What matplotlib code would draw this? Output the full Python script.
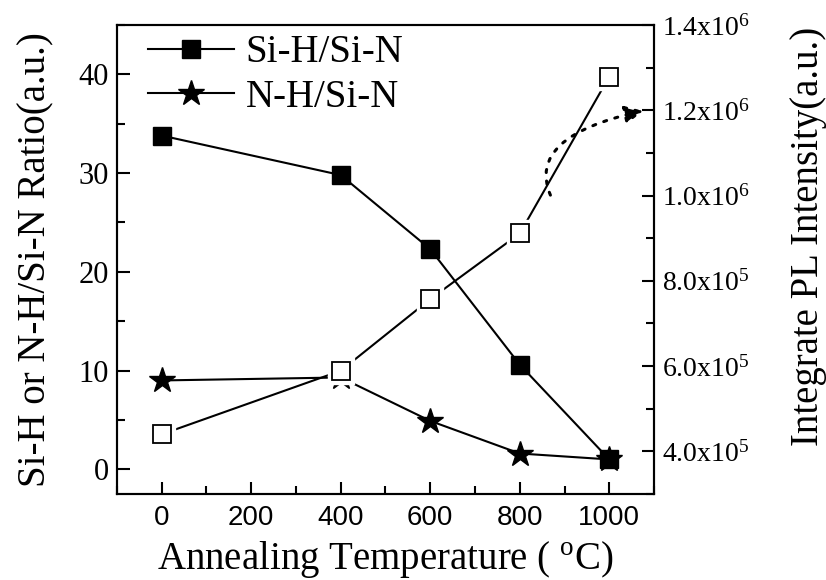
import matplotlib
matplotlib.use("Agg")
import matplotlib.pyplot as plt
from matplotlib.ticker import MultipleLocator, FixedLocator

plt.rcParams['font.family'] = ['Liberation Serif', 'DejaVu Serif']
plt.rcParams['mathtext.fontset'] = 'custom'
plt.rcParams['mathtext.rm'] = 'Liberation Serif'
plt.rcParams['mathtext.it'] = 'Liberation Serif:italic'

temps = [0, 400, 600, 800, 1000]
sih_sin = [33.8, 29.8, 22.3, 10.6, 1.0]
nh_sin = [9.0, 9.3, 4.9, 1.6, 1.0]
pl_intensity = [4.4e5, 5.89e5, 7.57e5, 9.11e5, 1.279e6]

left_ticks = [0, 10, 20, 30, 40]
x_ticks = [0, 200, 400, 600, 800, 1000]
right_ticks = [4e5, 6e5, 8e5, 1.0e6, 1.2e6, 1.4e6]
right_tick_labels = [r'4.0x10$^5$', r'6.0x10$^5$', r'8.0x10$^5$',
                     r'1.0x10$^6$', r'1.2x10$^6$', r'1.4x10$^6$']

fig = plt.figure(figsize=(8.26, 5.8), dpi=100)
ax = fig.add_axes([0.1416, 0.1483, 0.6502, 0.8086])
ax2 = ax.twinx()

lw = 1.5
ax.plot(temps, sih_sin, '-', color='black', lw=lw, marker='s', ms=13.5,
        mfc='black', mec='black', label='Si-H/Si-N', zorder=3)
ax.plot(temps, nh_sin, '-', color='black', lw=lw, marker='*', ms=19,
        mfc='black', mec='black', label='N-H/Si-N', zorder=3)

ax2.plot(temps, pl_intensity, '-', color='black', lw=lw, zorder=2)
ax2.plot(temps, pl_intensity, linestyle='none', marker='s', ms=19,
         mfc='white', mec='white', zorder=3)
ax2.plot(temps, pl_intensity, linestyle='none', marker='s', ms=13,
         mfc='white', mec='black', mew=1.3, zorder=4)

ax2.annotate('', xy=(1082, 1.2e6), xytext=(871, 0.995e6),
             arrowprops=dict(arrowstyle='-|>,head_length=0.6,head_width=0.3',
                             linestyle=(0, (1.0, 2.8)),
                             lw=2.2, color='black', mutation_scale=18,
                             connectionstyle='angle3,angleA=115,angleB=12'),
             zorder=5)

ax.set_xlim(-100, 1100)
ax.set_ylim(-2.5, 45)
ax2.set_ylim(3e5, 1.4e6)

ax.xaxis.set_major_locator(FixedLocator(x_ticks))
ax.xaxis.set_minor_locator(MultipleLocator(100))
ax.yaxis.set_major_locator(FixedLocator(left_ticks))
ax.yaxis.set_minor_locator(MultipleLocator(5))
ax2.yaxis.set_major_locator(FixedLocator(right_ticks))
ax2.set_yticklabels(right_tick_labels)
ax2.yaxis.set_minor_locator(MultipleLocator(1e5))

for a in (ax, ax2):
    for s in a.spines.values():
        s.set_linewidth(1.5)

ax.tick_params(axis='both', which='both', direction='in', width=1.5,
               top=False, right=False)
ax.tick_params(axis='both', which='major', length=9)
ax.tick_params(axis='both', which='minor', length=6)
ax.tick_params(axis='y', labelsize=22, pad=6)
ax.tick_params(axis='x', labelsize=20, pad=8)
for lbl in ax.get_xticklabels():
    lbl.set_fontfamily('Liberation Sans')
ax2.tick_params(axis='y', which='both', direction='in', width=1.5,
                left=False, right=True)
ax2.tick_params(axis='y', which='major', length=9, labelsize=20, pad=6)
ax2.tick_params(axis='y', which='minor', length=6)

ax.set_xlabel(r'Annealing Temperature ( $^{\rm o}$C)', fontsize=28, labelpad=6)
ax.set_ylabel('Si-H or N-H/Si-N Ratio(a.u.)', fontsize=28, labelpad=17)
ax2.set_ylabel('Integrate PL Intensity(a.u.)', fontsize=28)
ax2.yaxis.set_label_coords(1.253, 0.55)

leg = ax.legend(loc='upper left', fontsize=28, frameon=False, handlelength=2.2,
                borderaxespad=0.2, handletextpad=0.3, labelspacing=0.2,
                bbox_to_anchor=(0.015, 1.03))

fig.savefig('out.png', dpi=100)
